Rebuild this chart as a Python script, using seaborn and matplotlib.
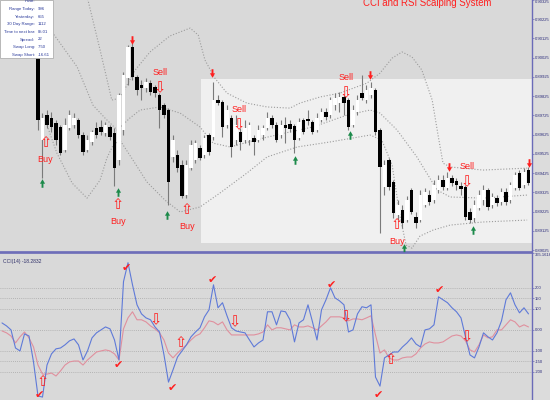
import numpy as np
import matplotlib
matplotlib.use('Agg')
import matplotlib.pyplot as plt
import seaborn as sns
from matplotlib.patches import Rectangle
from matplotlib.path import Path

sns.set_theme(style='white')
plt.rcParams['font.family'] = ['Liberation Sans', 'DejaVu Sans']

# --- price bars (5 digit quotes) ---
opens = [0.90117, 0.90169, 0.90091, 0.90143, 0.90195, 0.90117, 0.90169, 0.90091, 0.90039, 0.89597,
         0.89727, 0.89711, 0.89685, 0.89665, 0.89545, 0.89659, 0.89675, 0.89701, 0.89623, 0.89545,
         0.89587, 0.89659, 0.89665, 0.89633, 0.89665, 0.89633, 0.89493, 0.89649, 0.89919, 0.90081,
         0.89925, 0.89883, 0.89867, 0.89893, 0.89873, 0.89831, 0.89779, 0.89753, 0.89509, 0.89519,
         0.89467, 0.89311, 0.89451, 0.89493, 0.89555, 0.89519, 0.89623, 0.89613, 0.89805, 0.89795,
         0.89675, 0.89711, 0.89597, 0.89639, 0.89597, 0.89597, 0.89607, 0.89597, 0.89623, 0.89659,
         0.89711, 0.89675, 0.89623, 0.89675, 0.89680, 0.89670, 0.89607, 0.89701, 0.89706, 0.89691,
         0.89649, 0.89701, 0.89743, 0.89727, 0.89779, 0.89789, 0.89821, 0.89805, 0.89675, 0.89743,
         0.89841, 0.89805, 0.89831, 0.89857, 0.89649, 0.89353, 0.89493, 0.89379, 0.89207, 0.89233,
         0.89181, 0.89337, 0.89197, 0.89181, 0.89259, 0.89311, 0.89285, 0.89337, 0.89389, 0.89347,
         0.89399, 0.89384, 0.89358, 0.89353, 0.89223, 0.89191, 0.89243, 0.89285, 0.89337, 0.89259,
         0.89295, 0.89275, 0.89327, 0.89285, 0.89347, 0.89425, 0.89363, 0.89441]
highs = [0.90195, 0.90179, 0.90159, 0.90221, 0.90211, 0.90179, 0.90195, 0.90117, 0.90055, 0.89737,
         0.89753, 0.89743, 0.89701, 0.89675, 0.89711, 0.89753, 0.89737, 0.89711, 0.89639, 0.89623,
         0.89649, 0.89691, 0.89701, 0.89691, 0.89675, 0.89659, 0.89841, 0.89951, 0.90091, 0.90101,
         0.89935, 0.89909, 0.89919, 0.89909, 0.89883, 0.89841, 0.89789, 0.89763, 0.89623, 0.89545,
         0.89493, 0.89493, 0.89597, 0.89597, 0.89571, 0.89623, 0.89633, 0.89899, 0.89831, 0.89805,
         0.89779, 0.89727, 0.89727, 0.89659, 0.89701, 0.89691, 0.89623, 0.89675, 0.89675, 0.89743,
         0.89727, 0.89691, 0.89701, 0.89717, 0.89701, 0.89680, 0.89711, 0.89711, 0.89753, 0.89701,
         0.89737, 0.89763, 0.89763, 0.89821, 0.89841, 0.89847, 0.89831, 0.89815, 0.89779, 0.89831,
         0.89935, 0.89883, 0.89899, 0.89867, 0.89659, 0.89493, 0.89503, 0.89389, 0.89285, 0.89259,
         0.89306, 0.89347, 0.89223, 0.89337, 0.89347, 0.89337, 0.89389, 0.89415, 0.89415, 0.89431,
         0.89415, 0.89399, 0.89379, 0.89363, 0.89243, 0.89285, 0.89337, 0.89363, 0.89347, 0.89321,
         0.89311, 0.89347, 0.89347, 0.89379, 0.89431, 0.89441, 0.89451, 0.89457]
lows = [0.90091, 0.90065, 0.90075, 0.90117, 0.90091, 0.90096, 0.90065, 0.90044, 0.89649, 0.89399,
        0.89659, 0.89639, 0.89571, 0.89519, 0.89535, 0.89649, 0.89659, 0.89607, 0.89519, 0.89535,
        0.89571, 0.89607, 0.89623, 0.89618, 0.89597, 0.89358, 0.89467, 0.89623, 0.89883, 0.89909,
        0.89831, 0.89805, 0.89847, 0.89831, 0.89821, 0.89659, 0.89711, 0.89259, 0.89483, 0.89431,
        0.89295, 0.89295, 0.89441, 0.89477, 0.89493, 0.89503, 0.89519, 0.89597, 0.89779, 0.89613,
        0.89659, 0.89509, 0.89571, 0.89545, 0.89581, 0.89571, 0.89519, 0.89587, 0.89597, 0.89649,
        0.89659, 0.89587, 0.89607, 0.89581, 0.89639, 0.89529, 0.89597, 0.89628, 0.89675, 0.89628,
        0.89639, 0.89691, 0.89701, 0.89711, 0.89753, 0.89743, 0.89727, 0.89649, 0.89665, 0.89727,
        0.89805, 0.89789, 0.89815, 0.89623, 0.89113, 0.89311, 0.89337, 0.89191, 0.89181, 0.89139,
        0.89171, 0.89212, 0.89139, 0.89171, 0.89249, 0.89259, 0.89269, 0.89321, 0.89337, 0.89337,
        0.89358, 0.89337, 0.89311, 0.89181, 0.89165, 0.89171, 0.89233, 0.89259, 0.89233, 0.89243,
        0.89254, 0.89259, 0.89259, 0.89269, 0.89337, 0.89337, 0.89347, 0.89363]
closes = [0.90169, 0.90091, 0.90143, 0.90195, 0.90117, 0.90169, 0.90091, 0.90055, 0.89701, 0.89711,
          0.89675, 0.89665, 0.89597, 0.89529, 0.89675, 0.89727, 0.89711, 0.89623, 0.89535, 0.89597,
          0.89639, 0.89623, 0.89639, 0.89675, 0.89613, 0.89451, 0.89831, 0.89935, 0.90081, 0.89925,
          0.89857, 0.89867, 0.89899, 0.89847, 0.89841, 0.89753, 0.89727, 0.89379, 0.89597, 0.89451,
          0.89306, 0.89467, 0.89571, 0.89581, 0.89503, 0.89607, 0.89535, 0.89805, 0.89789, 0.89665,
          0.89753, 0.89561, 0.89675, 0.89587, 0.89659, 0.89675, 0.89587, 0.89649, 0.89659, 0.89711,
          0.89675, 0.89597, 0.89675, 0.89659, 0.89654, 0.89597, 0.89691, 0.89639, 0.89696, 0.89639,
          0.89711, 0.89743, 0.89717, 0.89805, 0.89815, 0.89821, 0.89789, 0.89665, 0.89753, 0.89805,
          0.89815, 0.89857, 0.89867, 0.89639, 0.89457, 0.89467, 0.89353, 0.89217, 0.89259, 0.89165,
          0.89285, 0.89223, 0.89165, 0.89311, 0.89327, 0.89275, 0.89363, 0.89389, 0.89353, 0.89399,
          0.89373, 0.89363, 0.89342, 0.89197, 0.89181, 0.89259, 0.89311, 0.89337, 0.89249, 0.89301,
          0.89269, 0.89327, 0.89275, 0.89363, 0.89415, 0.89347, 0.89431, 0.89373]

# bollinger bands (bar position, price)
upper_bar = [17.3, 19.1, 21.8, 24.4, 26.2, 29.6, 32.9, 37.3, 41.8, 43.6, 45.1, 47.3, 50.0, 54.4, 58.9,
             64.0, 66.2, 70.7, 75.1, 81.1, 84.0, 86.7, 88.9, 91.1, 93.3, 95.6, 96.9, 98.0, 99.6, 106.9, 116.7]
upper_px = [0.91481, 0.90325, 0.90065, 0.89805, 0.89815, 0.89961, 0.90055, 0.90138, 0.90179, 0.90143,
            0.90013, 0.89919, 0.89841, 0.89789, 0.89769, 0.89763, 0.89789, 0.89821, 0.89841, 0.89893,
            0.89945, 0.90023, 0.90055, 0.90029, 0.89961, 0.89805, 0.89623, 0.89477, 0.89457, 0.89441, 0.89451]
mid_bar = [8.4, 11.3, 16.7, 20.2, 22.9, 25.6, 28.4, 30.7, 35.1, 39.6, 44.0, 46.9, 50.7, 58.0, 64.0,
           69.1, 76.7, 81.8, 84.0, 87.8, 92.2, 96.7, 99.6, 106.9, 116.7]
mid_px = [0.90221, 0.90153, 0.89977, 0.89779, 0.89711, 0.89649, 0.89711, 0.89753, 0.89769, 0.89737,
          0.89665, 0.89581, 0.89561, 0.89607, 0.89639, 0.89665, 0.89727, 0.89753, 0.89737, 0.89649,
          0.89509, 0.89337, 0.89301, 0.89295, 0.89311]
lower_bar = [9.6, 12.2, 15.6, 18.9, 21.8, 23.3, 24.7, 26.2, 29.1, 32.2, 36.2, 39.6, 44.0, 48.4, 54.4,
             58.9, 65.6, 72.9, 81.8, 84.4, 86.7, 88.4, 89.8, 91.1, 92.9, 95.8, 99.6, 106.9, 116.7]
lower_px = [0.89701, 0.89529, 0.89373, 0.89295, 0.89389, 0.89503, 0.89571, 0.89597, 0.89493, 0.89379,
            0.89285, 0.89223, 0.89249, 0.89321, 0.89425, 0.89509, 0.89561, 0.89587, 0.89623, 0.89597,
            0.89467, 0.89207, 0.89051, 0.89035, 0.89098, 0.89129, 0.89155, 0.89171, 0.89181]

# highlighted range box
zone_from_bar = 44.2
zone_high = 0.89914
zone_low = 0.89061

# signals on the price chart
sig_bar = [9.6, 25.8, 35.1, 41.1, 52.7, 76.4, 87.8, 103.3]
sig_price = [0.89581, 0.89259, 0.89867, 0.89233, 0.89675, 0.89841, 0.89155, 0.89379]
sig_kind = ['Buy', 'Buy', 'Sell', 'Buy', 'Sell', 'Sell', 'Buy', 'Sell']
alert_bar = [28.9, 46.7, 81.8, 99.3, 117.1]
alert_price = [0.90117, 0.89945, 0.89935, 0.89457, 0.89477]
entry_bar = [8.9, 25.8, 36.7, 65.1, 77.3, 89.3, 104.7]
entry_price = [0.89373, 0.89327, 0.89207, 0.89493, 0.89623, 0.89035, 0.89129]

price_ticks = [0.90325, 0.90225, 0.90125, 0.90025, 0.89925, 0.89825, 0.89725,
               0.89625, 0.89525, 0.89425, 0.89325, 0.89225, 0.89125, 0.89025]

# --- CCI window ---
cci_fast = [33, 19, 0, -86, -100, -19, -29, -152, -314, -319,
            -167, -114, -90, -86, -71, -52, -43, -71, -143, -100,
            -38, -14, 0, 14, 5, -48, -143, 229, 319, 214,
            119, 76, 57, 48, 14, -10, -119, -248, -190, -129,
            -100, -71, -33, -10, 10, 62, 95, 214, 105, 129,
            67, 10, -5, -10, -14, -48, -81, -62, -48, 86,
            86, 24, 90, 86, 48, -57, 33, 48, 119, 38,
            -48, 95, 143, 200, 152, 138, 119, -10, 0, 76,
            110, 105, 119, -224, -267, -133, -119, -105, -105, -81,
            -62, -38, -67, -81, 0, 5, 24, 157, 143, 129,
            105, 86, 57, -33, -119, -133, -81, -14, -33, -48,
            -14, 43, 143, 176, 119, 81, 105, 76]
cci_slow = [-5, -14, -29, -62, -33, -10, -38, -81, -167, -210,
            -210, -205, -219, -195, -167, -152, -148, -148, -167, -143,
            -124, -105, -100, -95, -100, -114, -143, 5, 57, 86,
            48, 48, 38, 19, 5, -14, -48, -110, -133, -110,
            -90, -71, -48, -29, -19, 10, 43, 38, 24, 38,
            0, -24, -24, -24, -24, -24, -24, -19, -10, 24,
            0, 10, 10, 5, 0, 24, 14, 14, 19, 10,
            0, 19, 38, 62, 62, 62, 57, 43, 52, 52,
            48, 57, 67, -24, -110, -95, -133, -143, -143, -133,
            -129, -129, -114, -86, -67, -57, -62, -62, -57, -43,
            -29, -24, -29, -52, -95, -105, -71, -24, -38, -33,
            0, 0, 24, 48, 38, 14, 24, 14]
cci_levels = [200, 150, 100, 0, -100, -150, -200]
cci_ticks = [365.1618, 200, 150, 100, 0, -100, -150, -200]
cci_tick_labels = ['365.1618', '200', '150', '100', '0.00', '-100', '-150', '-200']
cci_max, cci_min = 365.1618, -333
cci_label = 'CCI(14) -18.2832'

check_bar = [8.4, 25.8, 27.6, 37.8, 46.7, 73.3, 83.6, 97.3]
check_val = [-310, -167, 295, -276, 238, 214, -310, 190]
cci_sig_bar = [9.1, 34.2, 39.6, 51.8, 76.4, 86.4, 103.3]
cci_sig_val = [-248, 48, -62, 38, 62, -143, -33]
cci_sig_kind = ['Buy', 'Sell', 'Buy', 'Sell', 'Sell', 'Buy', 'Sell']

info_labels = ['Pivot:', 'Range Today:', 'Yesterday:', '30 Day Range:', 'Time to next bar:',
               'Spread:', 'Swap Long:', 'Swap Short:']
info_values = ['', '996', '655', '1112', '05:01', '22', '7.50', '-16.61']

title = 'CCI and RSI Scalping System'

# ---------------------------------------------------------------
bg = '#d9d9d9'
frame = '#6b6bb8'
red = '#ff1f1f'
o, h, l, c = map(np.array, (opens, highs, lows, closes))
idx = np.arange(len(o))
xlim = (-0.444, 117.78)

# solid arrow marker (stem + head)
down_arrow = Path([(-0.22, 1), (0.22, 1), (0.22, 0.05), (0.6, 0.05), (0, -1),
                   (-0.6, 0.05), (-0.22, 0.05), (-0.22, 1)], closed=True)
up_arrow = Path([(x, -y) for x, y in down_arrow.vertices], closed=True)

fig = plt.figure(figsize=(5.5, 4), dpi=100, facecolor='#dcdcdc')
ax = fig.add_axes([0, 1 - 252 / 400, 532 / 550, 252 / 400], facecolor=bg)
ax2 = fig.add_axes([0, 0, 532 / 550, 1 - 253 / 400], facecolor=bg)

# price window
ax.fill_between([zone_from_bar, xlim[1]], zone_low, zone_high, color='#f0f0f0', lw=0, zorder=0.5)
for xs, ys in [(upper_bar, upper_px), (mid_bar, mid_px), (lower_bar, lower_px)]:
    sns.lineplot(x=xs, y=ys, ax=ax, color='#9c9c9c', lw=0.8, linestyle=(0, (1, 1.6)),
                 sort=False, estimator=None, zorder=1)

bull = c >= o
ax.vlines(idx, l, h, color='#7a7a7a', lw=0.8, zorder=2)
body = np.maximum(np.abs(c - o), 0.00003)
ax.bar(idx, body, bottom=np.minimum(o, c), width=0.75,
       color=np.where(bull, 'white', 'black'), lw=0, zorder=3)

for b, p, k in zip(sig_bar, sig_price, sig_kind):
    ax.text(b, p, '⇧' if k == 'Buy' else '⇩', color=red, fontsize=10.5,
            ha='center', va='center', zorder=5)
    ax.annotate(k, (b, p), xytext=(0, -12 if k == 'Buy' else 11), textcoords='offset points',
                color=red, fontsize=6.5, ha='center', va='center', zorder=5)
ax.scatter(alert_bar, alert_price, marker=down_arrow, s=38, color=red, lw=0, zorder=5)
ax.scatter(entry_bar, entry_price, marker=up_arrow, s=38, color='#1c8a4a', lw=0, zorder=5)

ax.set_xlim(*xlim)
ax.set_ylim(0.89015, 0.90325)
ax.set_xticks([])
ax.yaxis.tick_right()
ax.set_yticks(price_ticks)
ax.set_yticklabels([f'{t:.5f}' for t in price_ticks])

# CCI window
for lv in cci_levels:
    ax2.axhline(lv, color='#a8a8a8', lw=0.6, linestyle=(0, (1, 1.5)), zorder=1)
sns.lineplot(x=idx, y=cci_slow, ax=ax2, color='#e0909e', lw=0.8, zorder=2)
sns.lineplot(x=idx, y=cci_fast, ax=ax2, color='#5f7ad8', lw=0.8, zorder=3)
for b, v in zip(check_bar, check_val):
    ax2.text(b, v, '✔', color=red, fontsize=8, ha='center', va='center', zorder=5)
for b, v, k in zip(cci_sig_bar, cci_sig_val, cci_sig_kind):
    ax2.text(b, v, '⇧' if k == 'Buy' else '⇩', color=red, fontsize=10.5,
             ha='center', va='center', zorder=5)
ax2.text(0.006, 0.94, cci_label, transform=ax2.transAxes, fontsize=3.6, color='#30306a',
         ha='left', va='center')
ax2.set_xlim(*xlim)
ax2.set_ylim(cci_min, cci_max)
ax2.set_xticks([])
ax2.yaxis.tick_right()
ax2.set_yticks(cci_ticks)
ax2.set_yticklabels(cci_tick_labels)

for a in (ax, ax2):
    for s in a.spines.values():
        s.set_visible(False)
    a.spines['right'].set_visible(True)
    a.spines['right'].set_color(frame)
    a.spines['right'].set_linewidth(1.0)
    a.tick_params(axis='y', direction='out', length=1.2, width=0.5, colors=frame,
                  labelcolor='#2b2b7a', labelsize=3.0, pad=0.6)
    a.set_xlabel('')
    a.set_ylabel('')
ax2.get_yticklabels()[0].set_va('top')
ax.get_yticklabels()[0].set_va('top')
ax.spines['bottom'].set_visible(True)
ax.spines['bottom'].set_color(frame)
ax.spines['bottom'].set_linewidth(1.2)
ax2.spines['top'].set_visible(True)
ax2.spines['top'].set_color(frame)
ax2.spines['top'].set_linewidth(1.2)

# info panel top left
fig.patches.append(Rectangle((0, 1 - 58 / 400), 53 / 550, 58 / 400, transform=fig.transFigure,
                             facecolor='white', edgecolor='#b0b0b0', lw=0.6, zorder=10))
for i, (lab, val) in enumerate(zip(info_labels, info_values)):
    yy = 1 - (1.5 + 7.6 * i) / 400
    fig.text(35 / 550, yy, lab, fontsize=3.1, color='#2a3a9a', ha='right', va='center', zorder=11)
    fig.text(38 / 550, yy, val, fontsize=3.1, color='#2a3a9a', ha='left', va='center', zorder=11)

fig.text(427 / 550, 1 - 6 / 400, title, color=red, fontsize=6.9, ha='center', va='baseline')

fig.savefig('out.png', dpi=100, facecolor=fig.get_facecolor())
